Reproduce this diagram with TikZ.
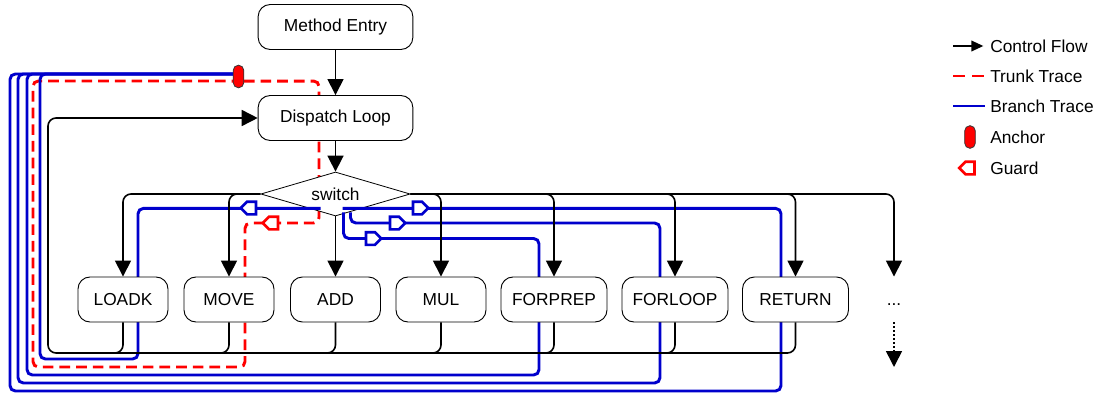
\documentclass[tikz,border=0pt]{standalone}
\usepackage{fontspec}
\setmainfont{Liberation Sans}
\usetikzlibrary{arrows.meta,shapes.geometric,shapes.symbols,calc}

\definecolor{trunkred}{HTML}{FF0000}
\definecolor{branchblue}{HTML}{0000CC}

\pgfdeclarelayer{trunklayer}
\pgfdeclarelayer{branchlayer}
\pgfsetlayers{trunklayer,branchlayer,main}

\tikzset{
	>={Triangle[width=12pt,length=12pt]},
	block/.style={draw, line width=0.7pt, rounded corners=9pt, fill=white, minimum height=33.75pt, font=\fontsize{13}{15}\selectfont},
	opcode/.style={block, minimum width=67.5pt},
	wideop/.style={block, minimum width=79.5pt},
	flow/.style={line width=1.2pt, rounded corners=6pt},
	trunk/.style={draw=trunkred, line width=2.2pt, dash pattern=on 8pt off 4.5pt, rounded corners=4pt},
	branch/.style={draw=branchblue, line width=2.2pt, rounded corners=4pt},
	guard/.style={signal, line width=2pt, fill=white, signal pointer angle=90, minimum width=11.5pt, minimum height=9.5pt, inner sep=0pt},
	anchorpin/.style={draw=black!80, line width=0.6pt, fill=trunkred, rounded corners=4pt, minimum width=8pt, minimum height=17pt, inner sep=0pt},
	legendtext/.style={anchor=west, inner sep=0pt, font=\fontsize{13}{15}\selectfont},
}

\begin{document}
\begin{tikzpicture}[x=0.75pt, y=0.75pt]
	\useasboundingbox (0,0) rectangle (1096,394);

	\node[block, minimum width=116pt] (entry) at (335.5,367) {Method Entry};
	\node[block, minimum width=116pt] (dispatch) at (335.5,276) {Dispatch Loop};

	\node[opcode] (loadk) at (123,94.5) {LOADK};
	\node[opcode] (move) at (229,94.5) {MOVE};
	\node[opcode] (add) at (335.5,94.5) {ADD};
	\node[opcode] (mul) at (441,94.5) {MUL};
	\node[wideop] (forprep) at (554,94.5) {FORPREP};
	\node[wideop] (forloop) at (675,94.5) {FORLOOP};
	\node[wideop] (ret) at (795.5,94.5) {RETURN};
	\node[block, draw=none, fill=none] (more) at (894,94.5) {\raisebox{-4.5pt}[0pt][0pt]{...}};
	\coordinate (moreend) at (894,27);
	\coordinate (back) at (48,41);
	\coordinate (merge) at (70,41);

	\node[anchorpin] (anchor) at (238.5,317.5) {};

	% trunk trace, passes under the switch
	\begin{pgfonlayer}{trunklayer}
		\draw[trunk] ([yshift=-3.4pt]anchor.center) -| (319,171) -| (245,27) -| (33,313) -- cycle;
		\node[guard, draw=trunkred, signal to=west] (gmove) at (273.5,171) {};
		\node[draw, diamond, fill=white, line width=0.6pt, aspect=3.4, minimum width=112pt, minimum height=33pt, inner sep=0pt, font=\fontsize{13}{15}\selectfont] (switch) at (335.5,200) {switch};
	\end{pgfonlayer}

	\begin{pgfonlayer}{branchlayer}
		\draw[branch] ($(switch.south)+(-15,8)$) -| (138,35) -| (40,320) -- ([yshift=1.9pt]anchor.west);
		\draw[branch] ($(switch.south)+(8,4)$) |- (539,155.5) |- (27,19) |- ([yshift=1.9pt]anchor.west);
		\draw[branch] ($(switch.south)+(15,4)$) |- (660,171) |- (18,11) |- ([yshift=1.9pt]anchor.west);
		\draw[branch] ($(switch.south)+(7,8)$) -| (781,3) -| (10,320) -- ([yshift=1.9pt]anchor.west);
		\node[guard, draw=branchblue, signal to=west] (gload) at (251.5,186) {};
		\node[guard, draw=branchblue] (gret) at (417.5,186) {};
		\node[guard, draw=branchblue] (gloop) at (394.5,171) {};
		\node[guard, draw=branchblue] (gprep) at (370.5,155.5) {};
	\end{pgfonlayer}

	\draw[flow, ->] (entry) -- (dispatch);
	\draw[flow, ->] (dispatch) -- (switch);
	\draw[flow, ->] (switch.west) -| (loadk.north);
	\draw[flow, ->] (switch.west) -| (move.north);
	\draw[flow, ->] (switch) -- (add);
	\draw[flow, ->] (switch.east) -| (mul.north);
	\draw[flow, ->] (switch.east) -| (forprep.north);
	\draw[flow, ->] (switch.east) -| (forloop.north);
	\draw[flow, ->] (switch.east) -| (ret.north);
	\draw[flow, ->] (switch.east) -| (more.north);
	\draw[flow, ->, dash pattern=on 1.5pt off 1.5pt] (more.south) -- (moreend);

	\draw[flow, ->] (ret.south) |- (back) |- (dispatch.west);
	\draw[flow] (loadk.south) |- (merge);
	\draw[flow] (move.south) |- (merge);
	\draw[flow] (add.south) |- (merge);
	\draw[flow] (mul.south) |- (merge);
	\draw[flow] (forprep.south) |- (merge);
	\draw[flow] (forloop.south) |- (merge);

	\node[legendtext] (lgflow) at (990,348) {Control Flow};
	\draw[flow, -{Triangle[width=8pt,length=9pt]}] ([xshift=-27.75pt]lgflow.west) -- ([xshift=-5pt]lgflow.west);
	\node[legendtext] (lgtrunk) at (990,318) {Trunk Trace};
	\draw[trunk, dash pattern=on 9pt off 5.25pt] ([xshift=-27.75pt]lgtrunk.west) -- ([xshift=-4.5pt]lgtrunk.west);
	\node[legendtext] (lgbranch) at (990,288) {Branch Trace};
	\draw[branch] ([xshift=-27.75pt]lgbranch.west) -- ([xshift=-3.75pt]lgbranch.west);
	\node[legendtext] (lganchor) at (990,257) {Anchor};
	\node[anchorpin] (lgpin) at ($(lganchor.west)+(-20,0)$) {};
	\node[legendtext] (lgguard) at (990,226) {Guard};
	\node[guard, draw=trunkred, signal to=west] (lgmark) at ($(lgguard.west)+(-20,0)$) {};
\end{tikzpicture}
\end{document}
